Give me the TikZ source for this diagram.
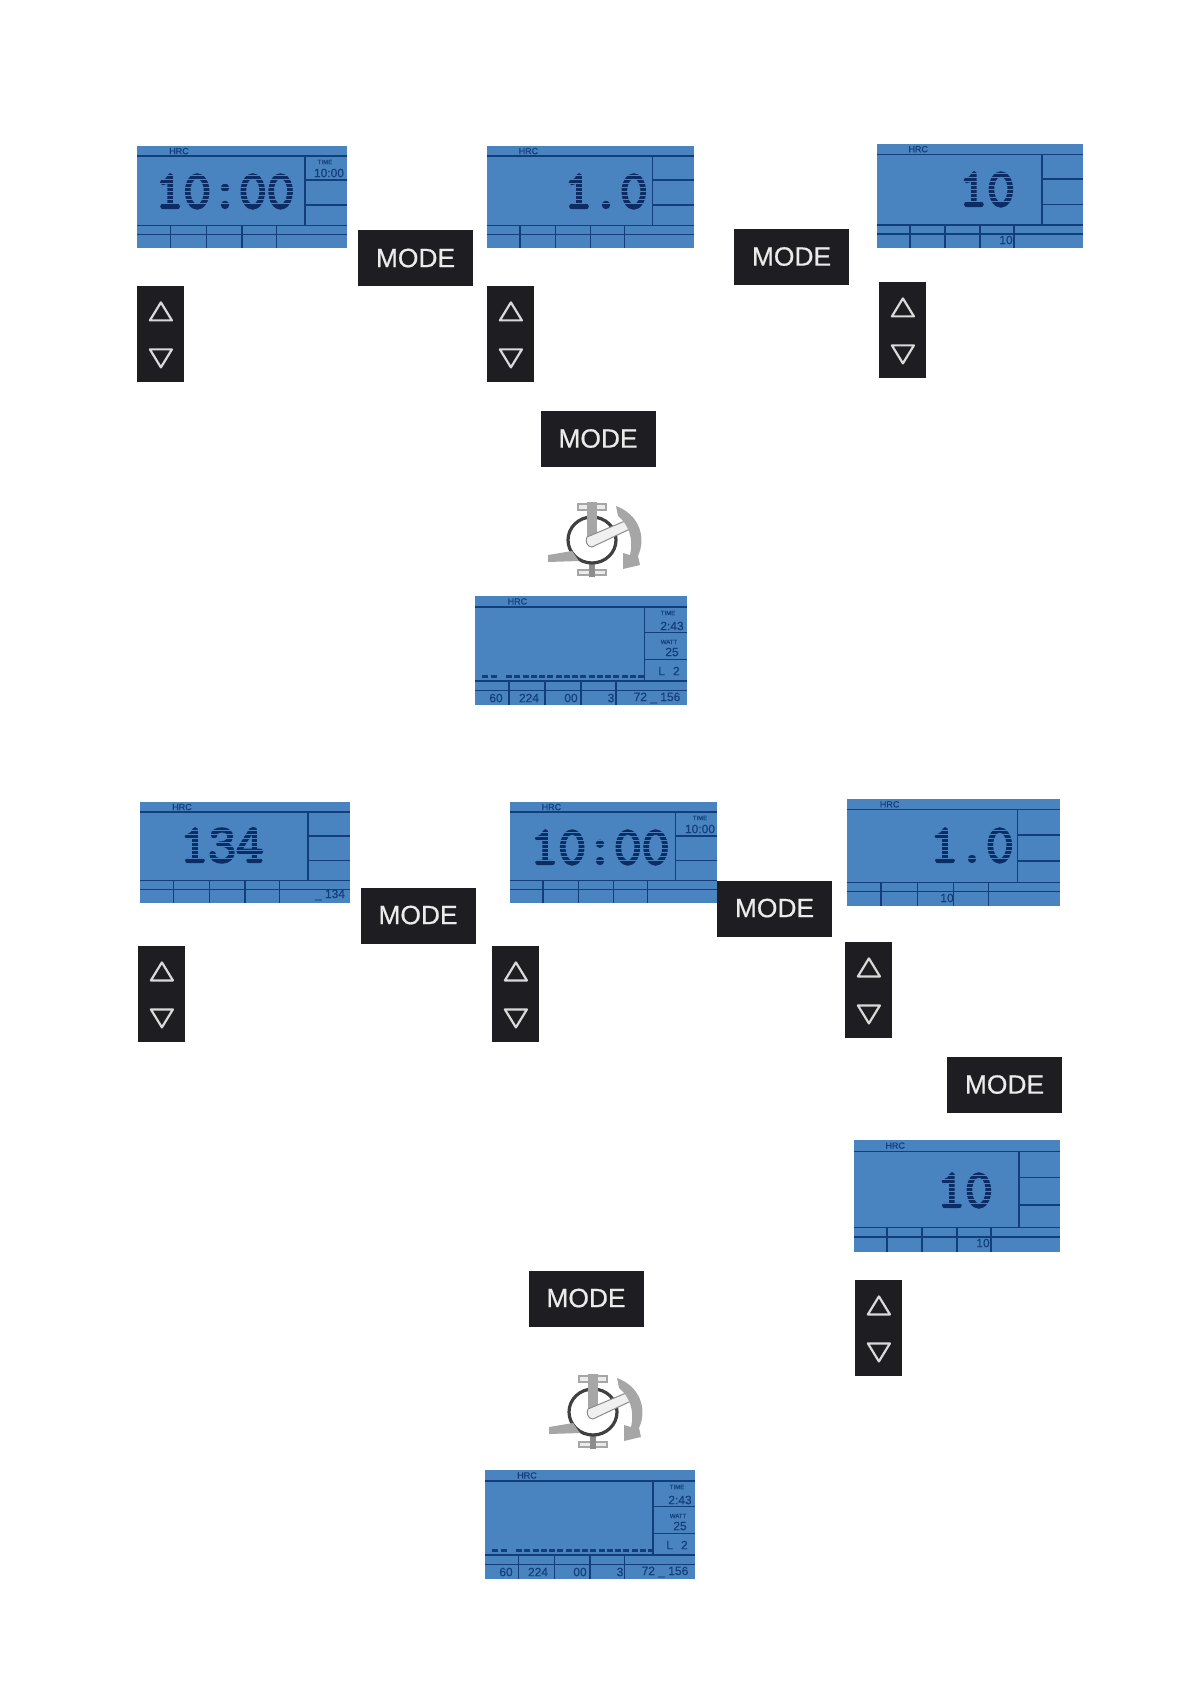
\documentclass[tikz,border=0pt]{standalone}
\usepackage{xcolor}
\usepackage{fontspec}
\setmainfont{Liberation Sans}
\newfontfamily\lcdfont[FakeBold=4]{Latin Modern Mono}
\newfontfamily\lblfont[FakeBold=0.5]{Liberation Sans}
\newfontfamily\keyfont[FakeBold=0.6]{Liberation Sans}
\usetikzlibrary{arrows.meta,positioning,calc}

\definecolor{lcdblue}{HTML}{4A84C0}
\definecolor{lcdink}{HTML}{123E7C}
\definecolor{lcddark}{HTML}{0C2C66}
\definecolor{keyblack}{HTML}{1E1E22}
\definecolor{pedalgrey}{HTML}{A6A6A6}

\tikzset{
    modekey/.style={fill=keyblack, text=white!92!black, font=\keyfont\fontsize{13.2}{14}\selectfont, minimum width=57.5pt, minimum height=28pt, inner sep=0pt, text depth=0.6pt},
    arrowkey/.style={fill=keyblack, minimum width=23.5pt, minimum height=48pt, inner sep=0pt},
    tinylbl/.style={text=lcdink, font=\lblfont\fontsize{3}{3}\selectfont, inner sep=0pt},
    smalllbl/.style={text=lcdink, font=\lblfont\fontsize{6}{6}\selectfont, inner sep=0pt},
    rule/.style={draw=lcdink, line width=0.7pt}
}

% panel: x, y, w, h, name
\newcommand{\lcdpanel}[5]{%
    \begin{scope}[shift={(#1,#2)}, x=#3*0.5pt, y=-#4*0.5pt]
        \fill[lcdblue] (0,0) rectangle (1,1);
        \draw[rule] (0,0.1) -- (1,0.1);
        \draw[rule] (0.8,0.1) -- (0.8,0.78);
        \draw[rule] (0,0.78) -- (1,0.78);
        \draw[rule] (0,0.865) -- (1,0.865);
        \draw[rule] (0.8,0.335) -- (1,0.335);
        \draw[rule] (0.8,0.58) -- (1,0.58);
        \foreach \cx in {0.16,0.33,0.5,0.665}
            \draw[rule] (\cx,0.78) -- (\cx,1);
        \node[tinylbl, font=\lblfont\fontsize{4.5}{4.5}\selectfont] (#5hrc) at (0.2,0.05) {HRC};
    \end{scope}}

% big figures of the display, cut in rows by thin lines
\newcommand{\lcdfigure}[4]{%
    \node[text=lcddark, font=\lcdfont\fontsize{27}{27}\selectfont, inner sep=0pt, anchor=base] (#1) at (#2,#3) {#4};
    \foreach \ry in {1,...,8}
        \draw[lcdblue, line width=0.5pt] ($(#1.base west)+(0,-\ry*4)$) -- ($(#1.base east)+(0,-\ry*4)$);}

\newcommand{\arrowkeys}[3]{%
    \node[arrowkey, anchor=north west] (#3) at (#1,#2) {};
    \draw[white!85!black, line width=1.1pt, line join=round] ($(#3.center)+(-11,-14)$) -- ($(#3.center)+(11,-14)$) -- ($(#3.center)+(0,-32)$) -- cycle;
    \draw[white!85!black, line width=1.1pt, line join=round] ($(#3.center)+(-11,15)$) -- ($(#3.center)+(11,15)$) -- ($(#3.center)+(0,33)$) -- cycle;}

\newcommand{\pedalicon}[3]{%
    \begin{scope}[shift={(#1,#2)}]
        \draw[pedalgrey, fill=white!92!black, line width=1pt] (-14,-36) rectangle (14,-30);
        \draw[pedalgrey, fill=white!92!black, line width=1pt] (-14,30) rectangle (14,35);
        \fill[black!45] (-3,22) rectangle (3,37);
        \draw[black!75, line width=1.6pt] (0,0) ellipse (24 and 23);
        \fill[pedalgrey] (-5,-38) -- (5,-38) -- (5,0) -- (-5,0) -- cycle;
        \fill[pedalgrey] (-44,15) -- (-20,11) -- (-13,21) -- (-44,22) -- cycle;
        \draw[black!45, fill=white!94!black, line width=0.5pt] (-5,-3) -- (33,-19) -- (38,-11) -- (0,7) .. controls (-5,7) and (-7,1) .. (-5,-3) -- cycle;
        \fill[pedalgrey] (24,-34) .. controls (46,-26) and (55,-4) .. (46,16) -- (48,25) -- (31,29) -- (31,13) -- (38,15) .. controls (42,-2) and (36,-16) .. (26,-24) -- cycle;
        \coordinate (#3) at (0,0);
    \end{scope}}

\begin{document}
\begin{tikzpicture}[x=0.5pt, y=-0.5pt]
    \useasboundingbox (0,0) rectangle (1190,1684);

    % upper sequence
    \lcdpanel{137}{146}{210}{102}{pa}
    \lcdfigure{pabig}{225}{208}{10:00}
    \node[tinylbl] (patime) at (325,162) {TIME};
    \node[smalllbl] (paval) at (329,173) {10:00};
    \lcdpanel{487}{146}{207}{102}{pb}
    \lcdfigure{pbbig}{606}{208}{1.0}
    \lcdpanel{877}{144}{206}{104}{pc}
    \lcdfigure{pcbig}{987}{206}{10}
    \node[smalllbl] (pcval) at (1006,240) {10};

    \node[modekey] (ma) at (415.5,258.5) {MODE};
    \node[modekey] (mb) at (791.5,257) {MODE};
    \node[modekey] (mc) at (598,439) {MODE};

    \arrowkeys{137}{286}{ka}
    \arrowkeys{487}{286}{kb}
    \arrowkeys{879}{282}{kc}

    \pedalicon{592}{540}{ia}

    \lcdpanel{475}{596}{212}{109}{pd}
    \foreach \dx in {0,...,1}
        \fill[lcdink] (482+\dx*9,675) rectangle ++(6,3);
    \foreach \dx in {0,...,16}
        \fill[lcdink] (506+\dx*8.25,675) rectangle ++(6,3);
    \node[tinylbl] (pdtime) at (668,613) {TIME};
    \node[smalllbl] (pdval) at (672,626) {2:43};
    \node[tinylbl] (pdwatt) at (669,642) {WATT};
    \node[smalllbl] (pdwv) at (672,652) {25};
    \node[smalllbl] (pdl) at (669,671) {L\hspace{4pt}2};
    \node[smalllbl] (pda) at (496,698) {60};
    \node[smalllbl] (pdb) at (529,698) {224};
    \node[smalllbl] (pdc) at (571,698) {00};
    \node[smalllbl] (pdd) at (611,698) {3};
    \node[smalllbl] (pde) at (657,698) {72 \_ 156};

    % lower sequence
    \lcdpanel{140}{802}{210}{101}{pe}
    \lcdfigure{pebig}{222}{862}{134}
    \node[smalllbl] (peval) at (330,895) {\_ 134};
    \lcdpanel{510}{802}{207}{101}{pf}
    \lcdfigure{pfbig}{600}{864}{10:00}
    \node[tinylbl] (pftime) at (700,818) {TIME};
    \node[smalllbl] (pfval) at (700,829) {10:00};
    \lcdpanel{847}{799}{213}{107}{pg}
    \lcdfigure{pgbig}{972}{862}{1.0}
    \node[smalllbl] (pgval) at (947,898) {10};

    \node[modekey] (md) at (418,915.5) {MODE};
    \node[modekey] (me) at (774.5,908.5) {MODE};
    \node[modekey] (mf) at (1004.5,1085) {MODE};
    \node[modekey] (mg) at (586,1298.5) {MODE};

    \arrowkeys{138}{946}{kd}
    \arrowkeys{492}{946}{ke}
    \arrowkeys{845}{942}{kf}
    \arrowkeys{855}{1280}{kg}

    \lcdpanel{854}{1140}{206}{112}{ph}
    \lcdfigure{phbig}{965}{1207}{10}
    \node[smalllbl] (phval) at (983,1243) {10};

    \pedalicon{593}{1412}{ib}

    \lcdpanel{485}{1470}{210}{109}{pi}
    \foreach \dx in {0,...,1}
        \fill[lcdink] (492+\dx*9,1549) rectangle ++(6,3);
    \foreach \dx in {0,...,16}
        \fill[lcdink] (516+\dx*8.25,1549) rectangle ++(6,3);
    \node[tinylbl] (pitime) at (677,1487) {TIME};
    \node[smalllbl] (pival) at (680,1500) {2:43};
    \node[tinylbl] (piwatt) at (678,1516) {WATT};
    \node[smalllbl] (piwv) at (680,1526) {25};
    \node[smalllbl] (pil) at (677,1545) {L\hspace{4pt}2};
    \node[smalllbl] (pia) at (506,1572) {60};
    \node[smalllbl] (pib) at (538,1572) {224};
    \node[smalllbl] (pic) at (580,1572) {00};
    \node[smalllbl] (pid) at (620,1572) {3};
    \node[smalllbl] (pie) at (665,1572) {72 \_ 156};
\end{tikzpicture}
\end{document}
